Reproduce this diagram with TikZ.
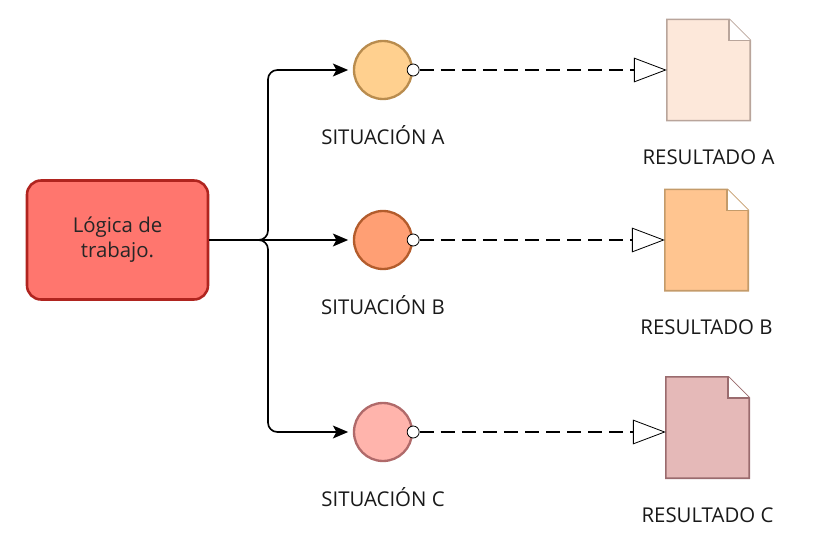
\documentclass[tikz,border=0pt]{standalone}
\usepackage{fontspec}
\setmainfont{Open Sans}
\usetikzlibrary{arrows.meta, positioning, calc}
\definecolor{logicfill}{HTML}{FF766E}
\definecolor{logicline}{HTML}{B0241F}
\definecolor{sitAfill}{HTML}{FFD08F}
\definecolor{sitAline}{HTML}{B98C4E}
\definecolor{sitBfill}{HTML}{FF9F74}
\definecolor{sitBline}{HTML}{B35C2C}
\definecolor{sitCfill}{HTML}{FFB4AC}
\definecolor{sitCline}{HTML}{B06A6A}
\definecolor{resAfill}{HTML}{FDE8DA}
\definecolor{resAline}{HTML}{B9A59B}
\definecolor{resBfill}{HTML}{FFC590}
\definecolor{resBline}{HTML}{C49B6A}
\definecolor{resCfill}{HTML}{E5B9B8}
\definecolor{resCline}{HTML}{9A6B6E}

\begin{document}
\begin{tikzpicture}[
    x=0.03cm, y=-0.03cm,
    node distance=0.88cm,
    logic/.style={
        rectangle, rounded corners=12pt, draw=logicline, line width=2.2pt,
        fill=logicfill, minimum width=5.43cm, minimum height=3.57cm,
        align=center, font=\fontsize{17.4}{21.5}\selectfont, text=black!85
    },
    sit/.style={
        circle, line width=2pt, minimum size=1.74cm, inner sep=0pt
    },
    port/.style={
        circle, draw=black, fill=white, line width=0.7pt,
        minimum size=0.36cm, inner sep=0pt
    },
    doc/.style={
        rectangle, minimum width=2.49cm, minimum height=3.03cm, inner sep=0pt
    },
    lbl/.style={
        font=\fontsize{17.4}{19}\selectfont, text=black!90,
        inner sep=0pt, text height=12.5pt, text depth=0pt
    },
    arr/.style={-{Stealth[length=13pt, width=11pt, inset=3pt]}, line width=1.4pt,
        black, rounded corners=8pt, shorten >=4pt},
    flow/.style={-{Triangle[length=28pt, width=21pt, fill=white, line width=0.7pt]},
        line width=1.5pt, dash pattern=on 12pt off 6pt, black},
]
\useasboundingbox (0,0) rectangle (835,559);

\node[logic] (logic) at (117.5,240) {Lógica de\\trabajo.};

\node[sit, fill=sitAfill, draw=sitAline] (sA) at (383,70) {};
\node[sit, fill=sitBfill, draw=sitBline] (sB) at (383,240) {};
\node[sit, fill=sitCfill, draw=sitCline] (sC) at (383,432) {};

\node[port] (pA) at (sA.east) {};
\node[port] (pB) at (sB.east) {};
\node[port] (pC) at (sC.east) {};

\node[lbl, below=of sA] (lA) {SITUACIÓN A};
\node[lbl, below=of sB] (lB) {SITUACIÓN B};
\node[lbl, below=of sC] (lC) {SITUACIÓN C};

\node[doc] (dA) at (708.5,70) {};
\node[doc] (dB) at (706.5,240) {};
\node[doc] (dC) at (707.5,427.5) {};

% ── Documents ──────
\draw[fill=resAfill, draw=resAline, line width=1.3pt]
    (dA.south west) -- (dA.north west) -- ([xshift=-0.63cm]dA.north east)
    -- ([yshift=-0.63cm]dA.north east) -- (dA.south east) -- cycle;
\draw[fill=white, draw=resAline, line width=1.3pt]
    ([xshift=-0.63cm]dA.north east) -- ([xshift=-0.63cm,yshift=-0.63cm]dA.north east)
    -- ([yshift=-0.63cm]dA.north east);
\draw[fill=resBfill, draw=resBline, line width=1.3pt]
    (dB.south west) -- (dB.north west) -- ([xshift=-0.63cm]dB.north east)
    -- ([yshift=-0.63cm]dB.north east) -- (dB.south east) -- cycle;
\draw[fill=white, draw=resBline, line width=1.3pt]
    ([xshift=-0.63cm]dB.north east) -- ([xshift=-0.63cm,yshift=-0.63cm]dB.north east)
    -- ([yshift=-0.63cm]dB.north east);
\draw[fill=resCfill, draw=resCline, line width=1.3pt]
    (dC.south west) -- (dC.north west) -- ([xshift=-0.63cm]dC.north east)
    -- ([yshift=-0.63cm]dC.north east) -- (dC.south east) -- cycle;
\draw[fill=white, draw=resCline, line width=1.3pt]
    ([xshift=-0.63cm]dC.north east) -- ([xshift=-0.63cm,yshift=-0.63cm]dC.north east)
    -- ([yshift=-0.63cm]dC.north east);

\node[lbl, below=of dA] (rA) {RESULTADO A};
\node[lbl, below=of dB] (rB) {RESULTADO B};
\node[lbl, below=of dC] (rC) {RESULTADO C};

% ── Branches ──────
\coordinate (split) at (268,240);
\draw[arr] (logic.east) -- (split) |- (sA.west);
\draw[arr] (logic.east) -- (split) |- (sC.west);
\draw[arr] (logic.east) -- (sB.west);

% ── Results ──────
\draw[flow] (pA.east) -- (pA.east -| dA.west);
\draw[flow] (pB.east) -- (pB.east -| dB.west);
\draw[flow] (pC.east) -- (pC.east -| dC.west);

\end{tikzpicture}
\end{document}
